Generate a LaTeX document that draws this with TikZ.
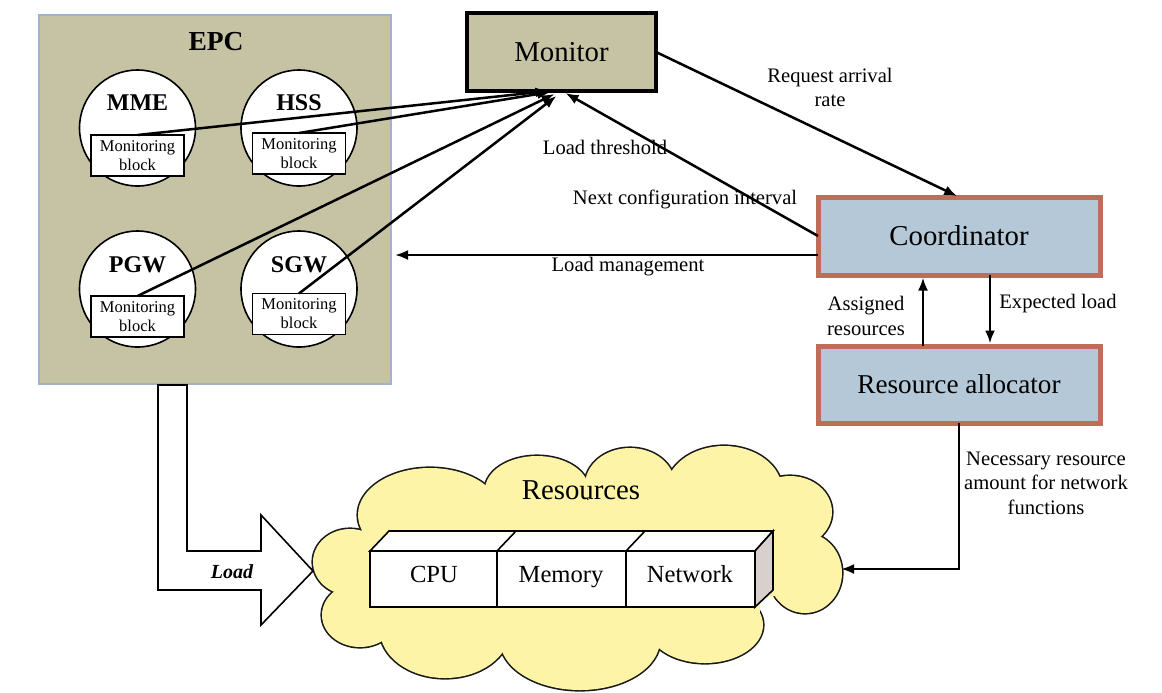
\documentclass[tikz,border=0pt]{standalone}
\usepackage{fontspec}
\setmainfont{Liberation Serif}
\usetikzlibrary{arrows.meta,calc}
\definecolor{epcfill}{HTML}{C5C3A4}
\definecolor{epcborder}{HTML}{A3B2CC}
\definecolor{coordfill}{HTML}{B4C8D7}
\definecolor{coordborder}{HTML}{C06C5A}
\definecolor{cloudfill}{HTML}{FDF4A8}
\definecolor{sideface}{HTML}{D7D0CC}
\begin{document}
\begin{tikzpicture}[x=0.5pt,y=-0.5pt,
  every node/.style={inner sep=0pt, outer sep=0pt},
  conn/.style={line width=1.25pt, -{Latex[length=6.5pt,width=5pt]}},
  lbl/.style={font=\fontsize{10.3}{12.2}\selectfont, align=center},
  bigtxt/.style={font=\fontsize{14.4}{16}\selectfont},
  gw/.style={circle, draw, fill=white, line width=0.8pt, minimum size=58pt},
  gwlabel/.style={font=\bfseries\fontsize{12}{14}\selectfont},
  monblock/.style={draw, fill=white, line width=0.7pt, minimum width=46.5pt, minimum height=20.5pt, align=center, font=\fontsize{8.25}{9.5}\selectfont},
  ctrlbox/.style={draw=coordborder, fill=coordfill, line width=2.5pt, minimum width=141pt},
  resbox/.style={draw, fill=white, line width=0.8pt, minimum height=28pt},
  restxt/.style={font=\fontsize{12.3}{14}\selectfont, anchor=base}
]
\useasboundingbox (0,0) rectangle (1162,692);

% EPC
\node[draw=epcborder, fill=epcfill, line width=1pt, minimum width=176pt, minimum height=184.5pt] (epc) at (215,199.5) {};
\node[font=\bfseries\fontsize{13.75}{16}\selectfont] (epcl) at (216,42) {EPC};

\node[gw] (mme) at (137.5,128) {};
\node[gw] (hss) at (299,128) {};
\node[gw] (pgw) at (137.5,289) {};
\node[gw] (sgw) at (299,289) {};
\node[gwlabel] (mmel) at (137.5,103) {MME};
\node[gwlabel] (hssl) at (299,103) {HSS};
\node[gwlabel] (pgwl) at (137.5,265) {PGW};
\node[gwlabel] (sgwl) at (299,265) {SGW};
\node[monblock] (mmeb) at (137.5,155.5) {Monitoring\\block};
\node[monblock] (hssb) at (299,153.5) {Monitoring\\block};
\node[monblock] (pgwb) at (137.5,316.5) {Monitoring\\block};
\node[monblock] (sgwb) at (299,314) {Monitoring\\block};

% Monitor
\node[draw, fill=epcfill, line width=2.2pt, minimum width=94.5pt, minimum height=39pt, bigtxt] (mon) at (561.5,52) {Monitor};

% Coordinator and allocator
\node[ctrlbox, minimum height=39pt, bigtxt] (coord) at (959,236) {Coordinator};
\node[ctrlbox, minimum height=38.5pt, font=\fontsize{13.6}{16}\selectfont] (ra) at (959,384.5) {Resource allocator};

% Cloud
\begin{scope}
\foreach \cx/\cy/\rx/\ry in {350/562/37/33, 430/515/72/47, 537/490/52/34, 630/485/45/37, 724/490/58/44, 790/512/42/36, 805/573/37/40, 705/625/58/38, 580/640/80/50, 445/630/65/48, 360/615/38/32}{
  \draw[line width=1.6pt, draw=black!90] (\cx,\cy) ellipse [x radius=\rx*0.5pt, y radius=\ry*0.5pt];
}
\foreach \cx/\cy/\rx/\ry in {350/562/37/33, 430/515/72/47, 537/490/52/34, 630/485/45/37, 724/490/58/44, 790/512/42/36, 805/573/37/40, 705/625/58/38, 580/640/80/50, 445/630/65/48, 360/615/38/32}{
  \fill[cloudfill] (\cx,\cy) ellipse [x radius=\rx*0.5pt, y radius=\ry*0.5pt];
}
\fill[cloudfill] (375,500) rectangle (760,620);
\fill[cloudfill] (755,520) -- (800,520) -- (800,590) -- (780,595) -- (755,600) -- cycle;
\end{scope}
\node[bigtxt] (res) at (581,490) {Resources};

% resource cube
\draw[line width=0.8pt, fill=white] (370,551) -- (389,531) -- (773,531) -- (755,551) -- cycle;
\draw[line width=0.8pt] (497,551) -- (516,531) (626,551) -- (645,531);
\draw[line width=0.8pt, fill=sideface] (755,551) -- (773,531) -- (773,590) -- (755,607) -- cycle;
\node[resbox, minimum width=63.5pt] (cpu) at (433.5,579) {};
\node[resbox, minimum width=64.5pt] (mem) at (561.5,579) {};
\node[resbox, minimum width=64.5pt] (net) at (690.5,579) {};
\node[restxt] (cpul) at (434,582) {CPU};
\node[restxt] (meml) at (561,582) {Memory};
\node[restxt] (netl) at (690,582) {Network};

% Load block arrow
\draw[line width=0.8pt, fill=white] (158,385) -- (187,385) -- (187,551) -- (261,551) -- (261,515) -- (313,571) -- (261,625) -- (261,590) -- (158,590) -- cycle;
\node[font=\bfseries\itshape\fontsize{10}{12}\selectfont] (loadl) at (232,572) {Load};

% connectors to monitor
\draw[conn] (mmeb.north) -- ($(mon.south)+(-13,0)$);
\draw[conn] (hssb.north) -- ($(mon.south)+(-11,1)$);
\draw[conn] (pgwb.north) -- ($(mon.south)+(-7,3)$);
\draw[conn] (sgwb.north) -- ($(mon.south)+(-5,5)$);
\draw[conn] (coord.west) -- ($(mon.south)+(4,2)$);
\draw[conn] (coord.west) ++(0,19) coordinate (lmstart) -- (epc.east |- lmstart) [shorten >=2pt];
\draw[conn, shorten >=1pt] (mon.east) -- (coord.north);
\draw[conn, shorten >=1.25pt] ($(ra.north)+(-36,0)$) -- ($(coord.south)+(-36,0)$);
\draw[conn, shorten >=1.25pt] ($(coord.south)+(31,0)$) -- ($(ra.north)+(31,0)$);
\coordinate (cloudr) at (841,569);
\draw[conn] (ra.south) |- (cloudr);

% labels
\node[lbl] (l1) at (830,87.5) {Request arrival\\rate};
\node[lbl] (l2) at (605,147) {Load threshold};
\node[lbl] (l3) at (685,199) {Next configuration interval};
\node[lbl] (l4) at (628,267) {Load management};
\node[lbl] (l5) at (866,316) {Assigned\\resources};
\node[lbl] (l6) at (1058,304) {Expected load};
\node[lbl] (l7) at (1046,483) {Necessary resource\\amount for network\\functions};
\end{tikzpicture}
\end{document}
